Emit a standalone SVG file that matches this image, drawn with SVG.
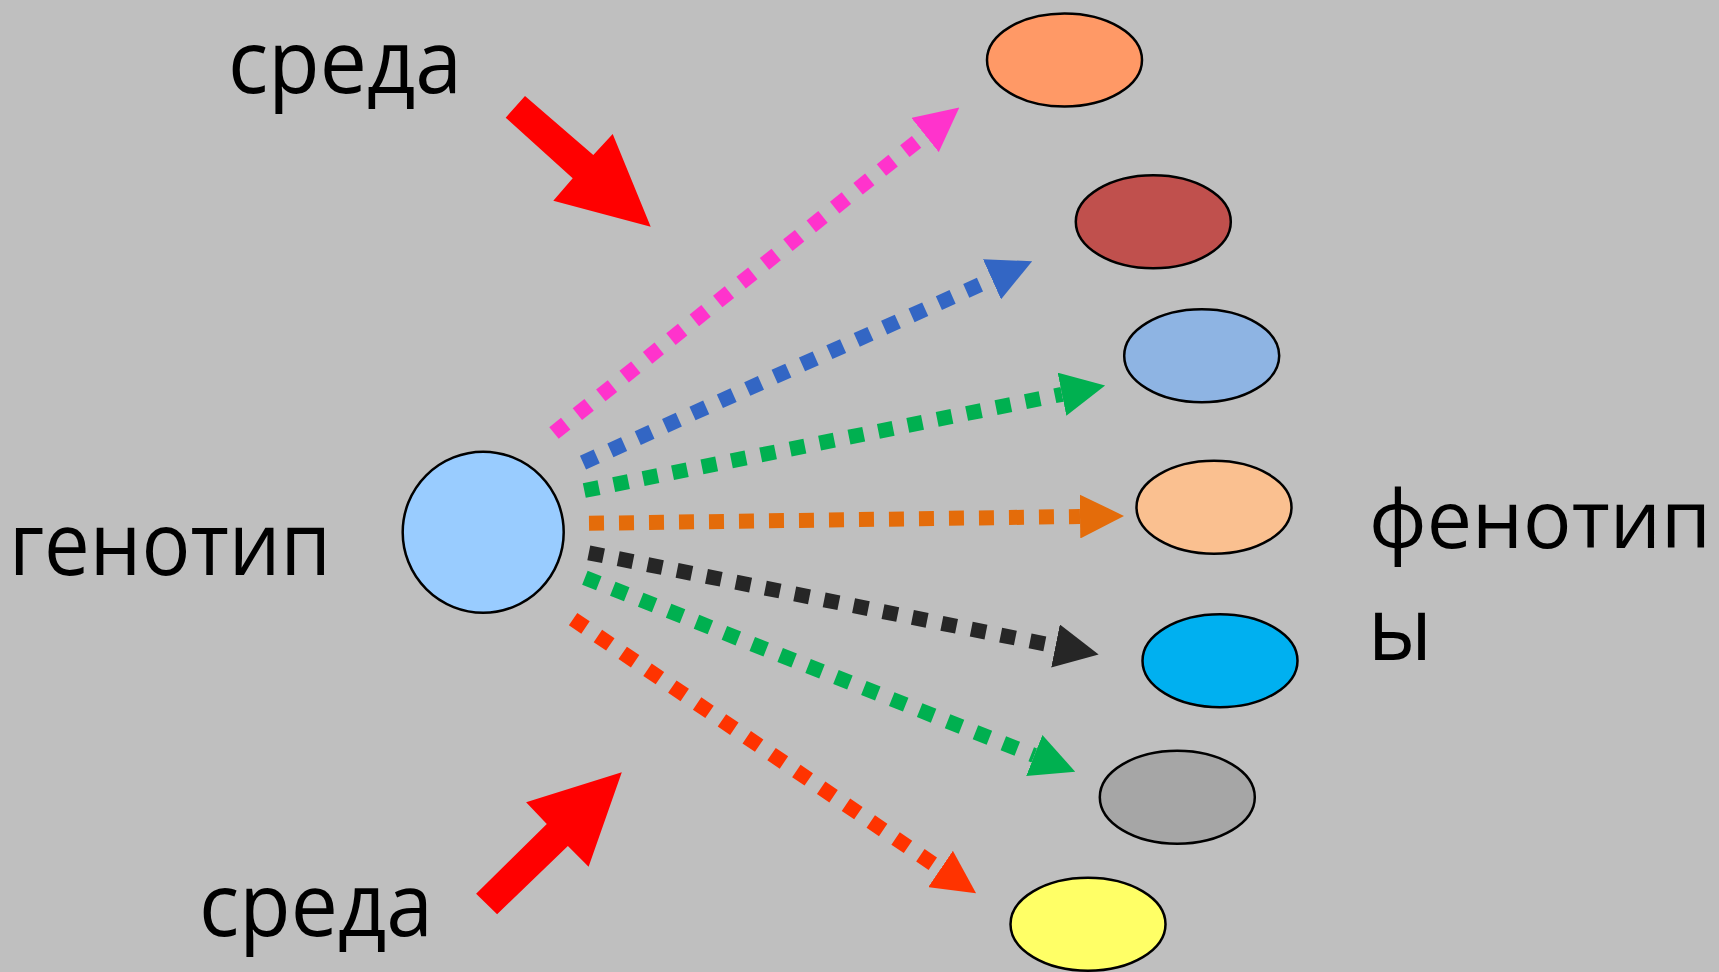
<svg xmlns="http://www.w3.org/2000/svg" width="1719" height="972" viewBox="0 0 1719 972">
<style>
.bg{fill:#BFBFBF}
.node{stroke:#000;stroke-width:2.5}
.lbl{font-family:"Open Sans","Noto Sans","Liberation Sans",sans-serif;font-size:88px;fill:#000}
.con{fill:none;stroke-linecap:butt;stroke-width:15;stroke-dasharray:15 15}
</style>
<defs>
<marker id="mPink" markerUnits="userSpaceOnUse" viewBox="0 -22 44 44" refX="0" refY="0" markerWidth="44" markerHeight="44" orient="auto"><path d="M0,-22 L44,0 L0,22 z" fill="#FF33CC"/></marker>
<marker id="mBlue" markerUnits="userSpaceOnUse" viewBox="0 -22 44 44" refX="0" refY="0" markerWidth="44" markerHeight="44" orient="auto"><path d="M0,-22 L44,0 L0,22 z" fill="#3366C4"/></marker>
<marker id="mGreen" markerUnits="userSpaceOnUse" viewBox="0 -22 44 44" refX="0" refY="0" markerWidth="44" markerHeight="44" orient="auto"><path d="M0,-22 L44,0 L0,22 z" fill="#00B050"/></marker>
<marker id="mOrange" markerUnits="userSpaceOnUse" viewBox="0 -22 44 44" refX="0" refY="0" markerWidth="44" markerHeight="44" orient="auto"><path d="M0,-22 L44,0 L0,22 z" fill="#E46C0A"/></marker>
<marker id="mDark" markerUnits="userSpaceOnUse" viewBox="0 -22 44 44" refX="0" refY="0" markerWidth="44" markerHeight="44" orient="auto"><path d="M0,-22 L44,0 L0,22 z" fill="#262626"/></marker>
<marker id="mRed" markerUnits="userSpaceOnUse" viewBox="0 -22 44 44" refX="0" refY="0" markerWidth="44" markerHeight="44" orient="auto"><path d="M0,-22 L43,0 L0,22 z" fill="#FF3300"/></marker>
</defs>
<rect class="bg" x="0" y="0" width="1719" height="972"/>

<g id="connectors">
<line class="con" x1="554" y1="433" x2="925" y2="135" stroke="#FF33CC" marker-end="url(#mPink)"/>
<line class="con" x1="583" y1="462.6" x2="992" y2="279.3" stroke="#3366C4" marker-end="url(#mBlue)"/>
<line class="con" x1="584.3" y1="490.5" x2="1062" y2="394.3" stroke="#00B050" marker-end="url(#mGreen)"/>
<line class="con" x1="589" y1="523.3" x2="1080" y2="516.5" stroke="#E46C0A" marker-end="url(#mOrange)"/>
<line class="con" x1="588.8" y1="552.8" x2="1055.5" y2="646" stroke="#262626" marker-end="url(#mDark)"/>
<line class="con" x1="584.9" y1="577.7" x2="1034.3" y2="755.5" stroke="#00B050" marker-end="url(#mGreen)"/>
<line class="con" x1="573.1" y1="619.1" x2="940.5" y2="869" stroke="#FF3300" marker-end="url(#mRed)"/>
</g>

<g id="env-arrows">
<polygon id="env-top" points="525,96 593.3,155 612.7,134 650.7,226.7 553.3,200.7 572.7,178.3 505.7,117.7" fill="#FF0000"/>
<polygon id="env-bottom" points="476.1,893.7 497.1,914.3 567.9,846 588.6,866.7 621.8,772.3 526.1,802.3 546.8,824" fill="#FF0000"/>
</g>

<g id="genotype"><circle class="node" cx="483.2" cy="532.2" r="80.5" fill="#99CCFF"/></g>
<g id="phenotype1"><ellipse class="node" cx="1064.5" cy="60" rx="77.5" ry="46.5" fill="#FF9966"/></g>
<g id="phenotype2"><ellipse class="node" cx="1153.3" cy="221.7" rx="77.5" ry="46.5" fill="#C0504D"/></g>
<g id="phenotype3"><ellipse class="node" cx="1201.7" cy="355.8" rx="77.5" ry="46.5" fill="#8EB4E3"/></g>
<g id="phenotype4"><ellipse class="node" cx="1214" cy="507.3" rx="77.5" ry="46.5" fill="#FAC090"/></g>
<g id="phenotype5"><ellipse class="node" cx="1220" cy="660.7" rx="77.5" ry="46.5" fill="#00B0F0"/></g>
<g id="phenotype6"><ellipse class="node" cx="1177.3" cy="797.3" rx="77.5" ry="46.5" fill="#A6A6A6"/></g>
<g id="phenotype7"><ellipse class="node" cx="1088" cy="924.2" rx="77.5" ry="46.5" fill="#FFFF66"/></g>

<g id="labels">
<text class="lbl" x="228" y="93" textLength="234" lengthAdjust="spacingAndGlyphs">среда</text>
<text class="lbl" x="199" y="936" textLength="234" lengthAdjust="spacingAndGlyphs">среда</text>
<text class="lbl" x="9" y="575" textLength="322" lengthAdjust="spacingAndGlyphs">генотип</text>
<text class="lbl" x="1369" y="548" style="font-size:81px" textLength="342" lengthAdjust="spacingAndGlyphs">фенотип</text>
<text class="lbl" x="1368" y="660" textLength="64" lengthAdjust="spacingAndGlyphs">ы</text>
</g>
</svg>
